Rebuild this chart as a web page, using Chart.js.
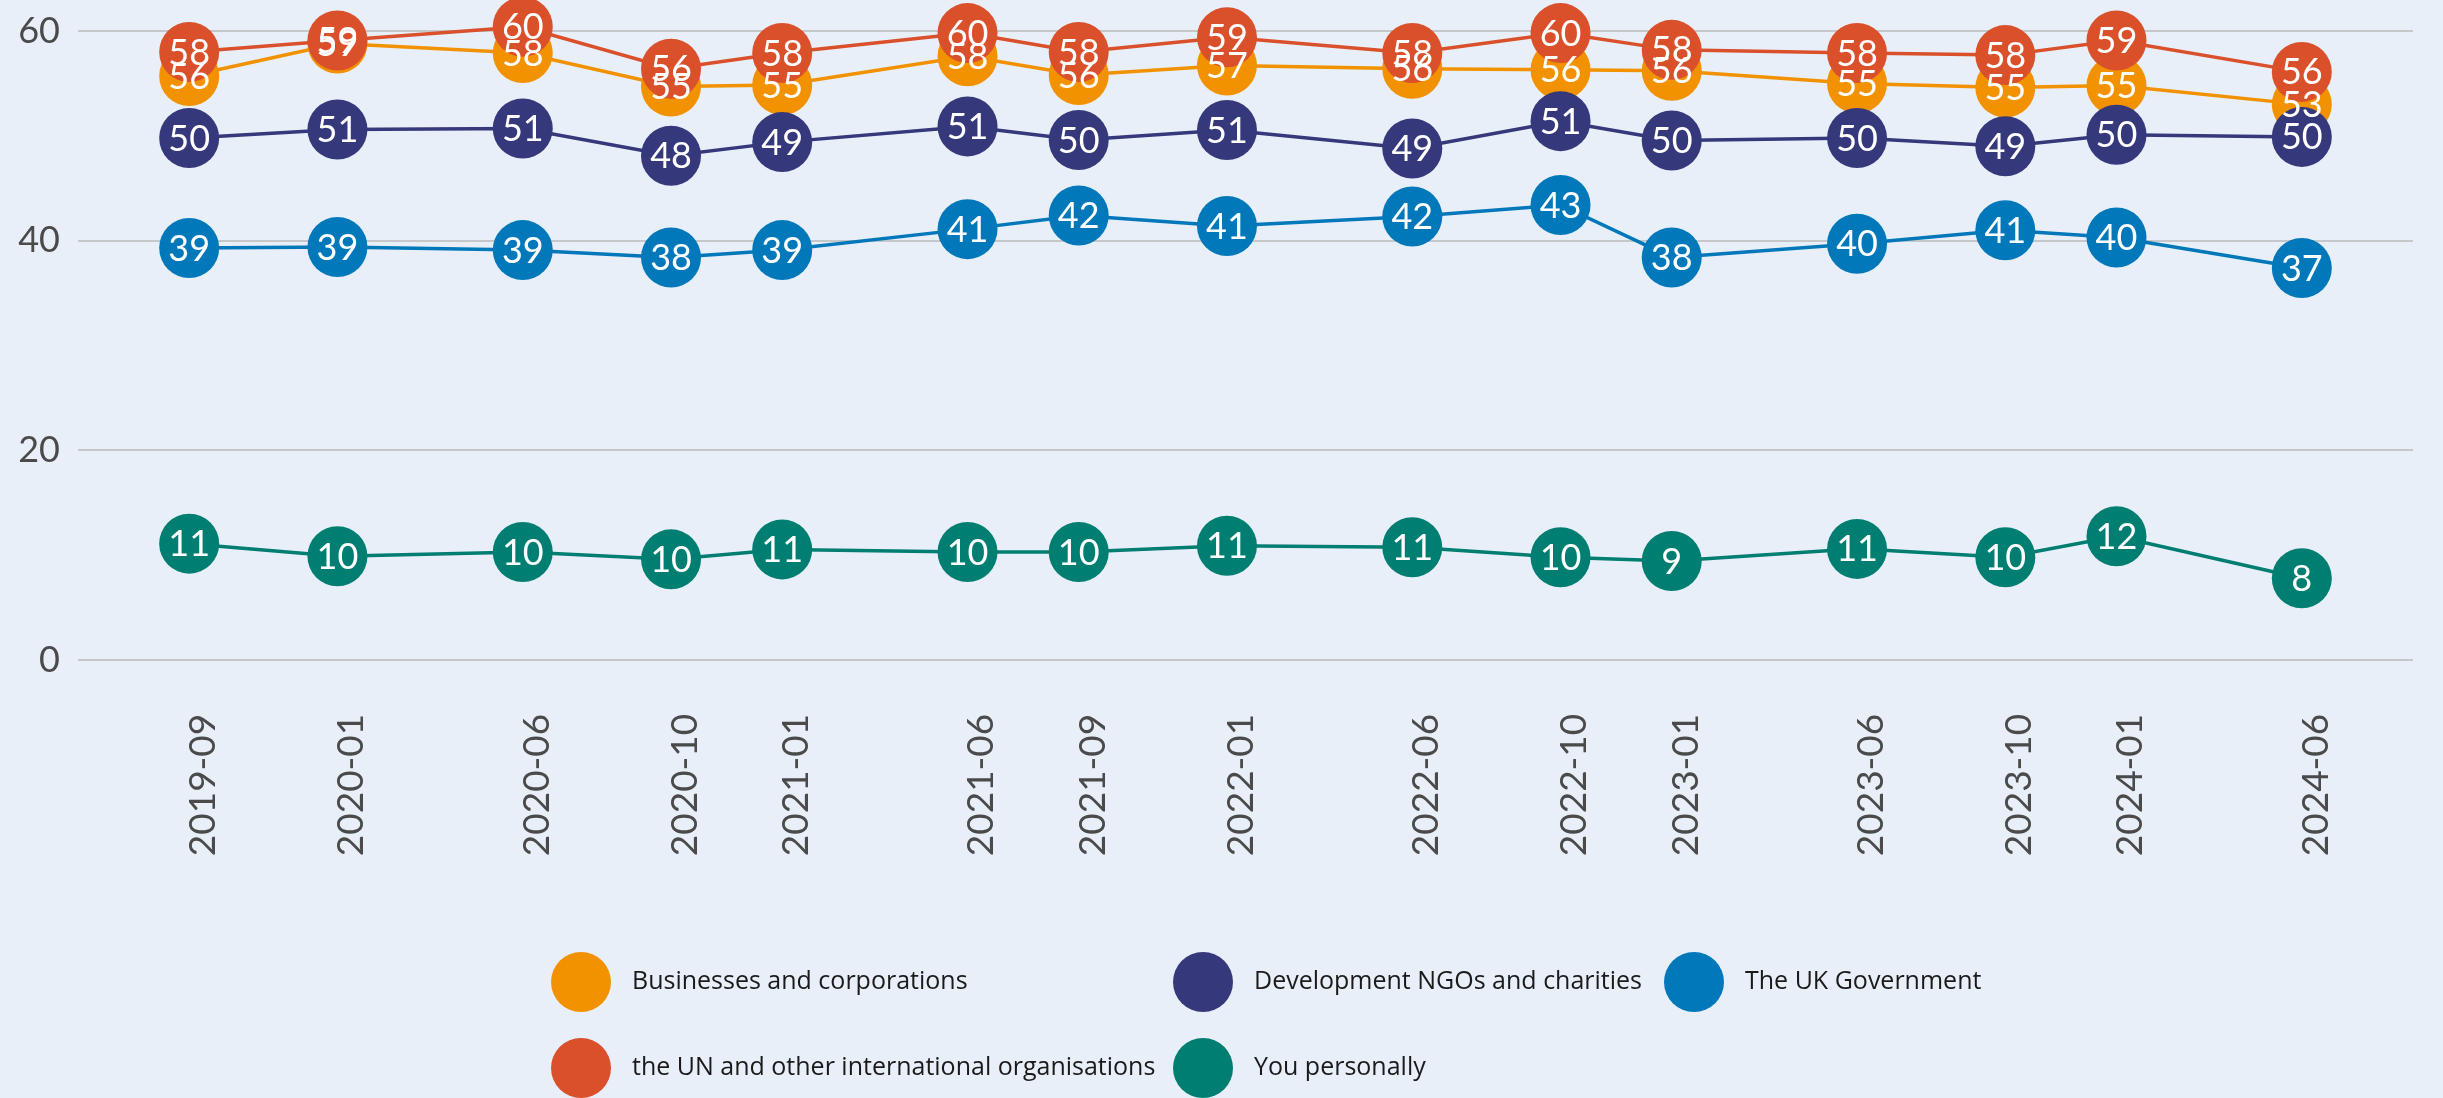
<!DOCTYPE html>
<html>
<head>
<meta charset="utf-8">
<script src="https://cdn.jsdelivr.net/npm/chart.js@4.4.1/dist/chart.umd.min.js"></script>
<style>
  html, body { margin: 0; padding: 0; background: #e8eff9; }
  #wrap { width: 2443px; height: 1098px; }
</style>
</head>
<body>
<div id="wrap"><canvas id="trustChart" width="2443" height="1098"></canvas></div>
<script>
// survey waves (year-month)
const waves = ['2019-09', '2020-01', '2020-06', '2020-10', '2021-01', '2021-06', '2021-09', '2022-01',
  '2022-06', '2022-10', '2023-01', '2023-06', '2023-10', '2024-01', '2024-06'];

const businesses = [55.7, 58.8, 57.9, 54.7, 54.85, 57.6, 55.8, 56.7, 56.4, 56.3, 56.2, 55.0, 54.6, 54.8, 53.0];
const ngos = [49.8, 50.6, 50.7, 48.1, 49.4, 50.9, 49.6, 50.55, 48.8, 51.4, 49.55, 49.8, 49.0, 50.1, 49.9];
const ukGov = [39.3, 39.4, 39.1, 38.4, 39.1, 41.1, 42.4, 41.4, 42.3, 43.4, 38.4, 39.7, 41.0, 40.3, 37.4];
const unOrgs = [58.0, 59.1, 60.4, 56.4, 57.9, 59.8, 58.0, 59.4, 57.9, 59.8, 58.2, 57.9, 57.7, 59.1, 56.1];
const personally = [11.1, 9.9, 10.3, 9.6, 10.55, 10.3, 10.3, 10.9, 10.75, 9.8, 9.45, 10.6, 9.8, 11.8, 7.8];

const seriesNames = ['Businesses and corporations', 'Development NGOs and charities', 'The UK Government',
  'the UN and other international organisations', 'You personally'];
const seriesColors = ['#f39200', '#35387a', '#0078ba', '#da502b', '#007e71'];
const seriesValues = [businesses, ngos, ukGov, unOrgs, personally];

const yTicks = [0, 20, 40, 60];

const bg = '#e8eff9';
const tickFont = 'Lato';

// months since 2019-09, so the x axis keeps the real spacing between waves
function monthIndex(label) {
  const [y, m] = label.split('-').map(Number);
  return (y - 2019) * 12 + (m - 9);
}

const datasets = seriesValues.map((vals, i) => ({
  label: seriesNames[i],
  data: vals.map((v, j) => ({ x: monthIndex(waves[j]), y: v })),
  borderColor: seriesColors[i],
  backgroundColor: seriesColors[i],
  pointBackgroundColor: seriesColors[i],
  borderWidth: 3.5,
  pointRadius: 30,
  pointHoverRadius: 30,
  pointBorderWidth: 0,
  tension: 0,
  clip: false,
  order: seriesValues.length - i // first series ends up at the bottom
}));

const backgroundPlugin = {
  id: 'bg',
  beforeDraw(chart) {
    const c = chart.ctx;
    c.save();
    c.fillStyle = bg;
    c.fillRect(0, 0, chart.width, chart.height);
    c.restore();
  }
};

const valueLabels = {
  id: 'valueLabels',
  afterDatasetsDraw(chart) {
    const c = chart.ctx;
    c.save();
    c.font = '400 36px ' + tickFont;
    c.fillStyle = '#ffffff';
    c.textAlign = 'center';
    c.textBaseline = 'middle';
    chart.data.datasets.forEach((ds, i) => {
      const meta = chart.getDatasetMeta(i);
      meta.data.forEach((pt, j) => {
        c.fillText(Math.round(ds.data[j].y), pt.x, pt.y + 1);
      });
    });
    c.restore();
  }
};

// rotated wave labels, centred under each wave
const waveLabels = {
  id: 'waveLabels',
  afterDraw(chart) {
    const c = chart.ctx;
    const xs = chart.scales.x;
    c.save();
    c.font = '400 37px ' + tickFont;
    c.fillStyle = '#4a4a4a';
    c.textAlign = 'center';
    c.textBaseline = 'middle';
    waves.forEach(w => {
      c.save();
      c.translate(xs.getPixelForValue(monthIndex(w)) + 14, 785);
      c.rotate(-Math.PI / 2);
      c.fillText(w, 0, 0);
      c.restore();
    });
    c.restore();
  }
};

const gridLegend = {
  id: 'gridLegend',
  afterDraw(chart) {
    const c = chart.ctx;
    const colX = [581, 1203, 1694];
    const rowY = [982, 1068];
    c.save();
    c.font = '400 25px "Open Sans"';
    c.textBaseline = 'middle';
    c.textAlign = 'left';
    chart.data.datasets.forEach((ds, i) => {
      const x = colX[i % 3];
      const y = rowY[Math.floor(i / 3)];
      c.fillStyle = ds.borderColor;
      c.beginPath();
      c.arc(x, y, 30, 0, Math.PI * 2);
      c.fill();
      c.fillStyle = '#1a1a1a';
      c.fillText(ds.label, x + 51, y);
    });
    c.restore();
  }
};

new Chart(document.getElementById('trustChart'), {
  type: 'line',
  data: { datasets },
  options: {
    responsive: false,
    animation: false,
    layout: { padding: { top: 31, right: 7, left: 0, bottom: 0 } },
    plugins: {
      legend: { display: false },
      tooltip: { enabled: false }
    },
    scales: {
      x: {
        type: 'linear',
        min: -3,
        max: 60,
        grid: { display: false },
        border: { display: false },
        ticks: { display: false },
        afterFit: s => { s.height = 438; }
      },
      y: {
        min: 0,
        max: 60,
        afterBuildTicks: s => { s.ticks = yTicks.map(v => ({ value: v })); },
        grid: { color: '#c5c7cb', lineWidth: 2, drawTicks: false },
        border: { display: false },
        ticks: {
          color: '#4a4a4a',
          padding: 18,
          font: { family: tickFont, size: 36, weight: 400, lineHeight: 1 }
        },
        afterFit: s => {
          s.width = 78;
          s.paddingTop = 0;
          s.paddingBottom = 0;
        }
      }
    }
  },
  plugins: [backgroundPlugin, valueLabels, waveLabels, gridLegend]
});
</script>
</body>
</html>
